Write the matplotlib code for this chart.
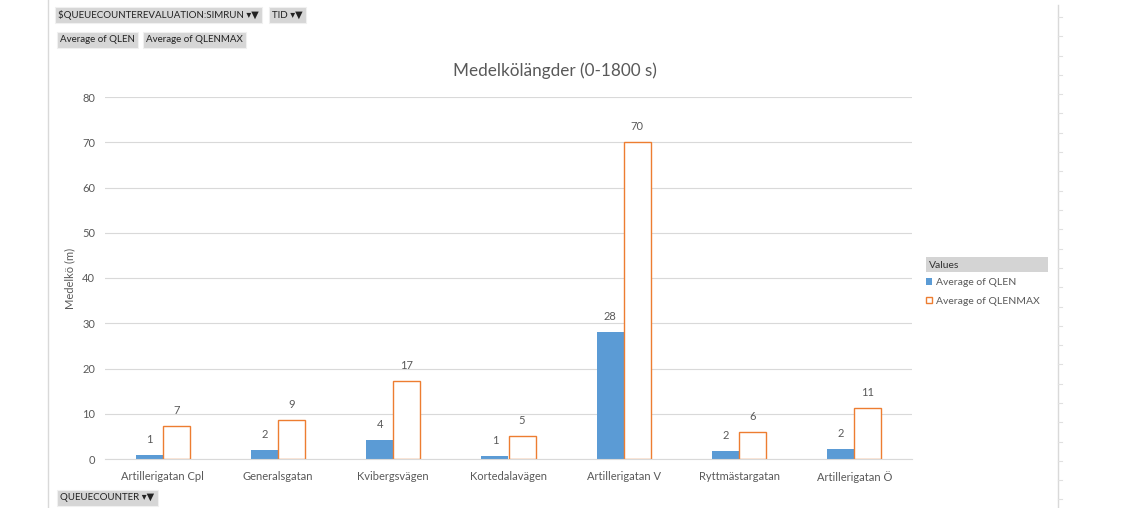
import matplotlib.pyplot as plt
from matplotlib.patches import Rectangle
from matplotlib.lines import Line2D
import numpy as np

plt.rcParams["font.family"] = ["Lato", "DejaVu Sans"]

categories = [
    "Artillerigatan Cpl",
    "Generalsgatan",
    "Kvibergsvägen",
    "Kortedalavägen",
    "Artillerigatan V",
    "Ryttmästargatan",
    "Artillerigatan Ö",
]
qlen = [0.9, 2.0, 4.2, 0.6, 28.1, 1.8, 2.2]
qlenmax = [7.3, 8.6, 17.2, 5.1, 70.1, 6.0, 11.3]

blue = "#5B9BD5"
orange = "#ED7D31"
txt = "#595959"

W, H = 1127, 508
fig = plt.figure(figsize=(W / 100, H / 100), dpi=100)
ax = fig.add_axes([105 / W, 1 - 459 / H, 807 / W, 362 / H])

x = np.arange(len(categories))
bw = 0.235
b1 = ax.bar(x - bw / 2, qlen, bw, color=blue, label="Average of QLEN")
b2 = ax.bar(x + bw / 2, qlenmax, bw, facecolor="white", edgecolor=orange,
            linewidth=1.0, label="Average of QLENMAX")
for bars, vals in ((b1, qlen), (b2, qlenmax)):
    for r, v in zip(bars, vals):
        ax.text(r.get_x() + r.get_width() / 2, v + 2.2, f"{v:.0f}",
                ha="center", va="bottom", fontsize=8, color=txt)

ax.set_xlim(-0.5, len(categories) - 0.5)
ax.set_ylim(0, 80)
ax.set_yticks(range(0, 81, 10))
ax.set_xticks(x)
ax.set_xticklabels(categories)
ax.yaxis.grid(True, color="#d9d9d9", linewidth=0.8)
ax.set_axisbelow(True)
for s in ("top", "right", "left"):
    ax.spines[s].set_visible(False)
ax.spines["bottom"].set_color("#d9d9d9")
ax.tick_params(length=0, labelsize=8, labelcolor=txt)
ax.tick_params(axis="x", pad=9)
ax.tick_params(axis="y", pad=7)
ax.set_ylabel("Medelkö (m)", fontsize=8, color=txt, labelpad=5)

fig.text(555 / W, 1 - 71 / H, "Medelkölängder (0-1800 s)", ha="center",
         va="center", fontsize=12.3, color=txt)

# frame lines of the sheet
fig.add_artist(Line2D([48 / W, 48 / W], [0, 1], color="#d9d9d9", lw=1))
fig.add_artist(Line2D([1058 / W, 1058 / W], [0, 1 - 5 / H], color="#d9d9d9", lw=1))
for yy in np.arange(17, 508, 19.3):
    fig.add_artist(Line2D([1058 / W, 1062 / W], [1 - yy / H] * 2,
                          color="#e0e0e0", lw=0.8))

# legend
fig.add_artist(Rectangle((926 / W, 1 - 272 / H), 122 / W, 15 / H,
                         transform=fig.transFigure, facecolor="#d4d4d4",
                         edgecolor="none"))
fig.text(929 / W, 1 - 265 / H, "Values", fontsize=7.5, va="center", color="#333333")
fig.legend(handles=[b1, b2], loc="upper left",
           bbox_to_anchor=(922 / W, 1 - 274 / H), frameon=False, fontsize=7.5,
           handlelength=0.6, handleheight=0.6, handletextpad=0.3,
           labelspacing=0.9, labelcolor=txt, borderaxespad=0)

# pivot field buttons
def button(x0, y0, label):
    fig.text(x0 / W, 1 - y0 / H, label, fontsize=7, color="#222222", va="center",
             bbox=dict(boxstyle="square,pad=0.35", facecolor="#d6d6d6",
                       edgecolor="#f0f0f0", lw=0.8))

button(58, 15, r"\$QUEUECOUNTEREVALUATION:SIMRUN ▾▼")
button(272, 15, "TID ▾▼")
button(60, 40, "Average of QLEN")
button(146, 40, "Average of QLENMAX")
button(60, 498, "QUEUECOUNTER ▾▼")

fig.savefig("out.png", dpi=100)
